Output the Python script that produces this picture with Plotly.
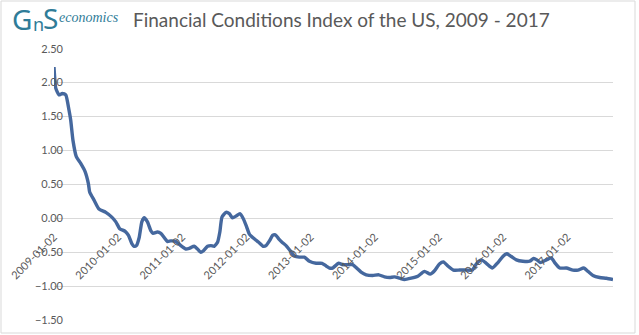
import plotly.graph_objects as go

dates = ["2009-01-02","2009-01-12","2009-01-30","2009-02-18","2009-03-10","2009-03-28","2009-04-07","2009-04-20",
"2009-05-09","2009-06-03","2009-06-28","2009-07-17","2009-07-24","2009-08-18","2009-09-15","2009-10-24","2009-11-27",
"2009-12-20","2010-01-11","2010-02-11","2010-03-02","2010-03-21","2010-04-03","2010-04-16","2010-05-02","2010-05-17",
"2010-05-30","2010-06-18","2010-07-07","2010-07-20","2010-08-14","2010-09-02","2010-09-21","2010-10-10","2010-10-29",
"2010-11-27","2010-12-25","2011-01-23","2011-02-11","2011-03-11","2011-03-30","2011-04-18","2011-05-01","2011-05-26",
"2011-06-14","2011-07-03","2011-07-22","2011-08-04","2011-08-16","2011-09-08","2011-09-27","2011-10-15","2011-11-07",
"2011-11-26","2011-12-15","2012-01-03","2012-01-19","2012-02-16","2012-03-12","2012-04-07","2012-04-23","2012-05-15",
"2012-05-30","2012-06-15","2012-07-04","2012-07-23","2012-08-15","2012-09-06","2012-10-01","2012-10-30","2012-11-27",
"2012-12-26","2013-02-02","2013-03-08","2013-03-31","2013-04-19","2013-05-07","2013-06-10","2013-07-03","2013-08-01",
"2013-08-29","2013-09-21","2013-10-16","2013-11-14","2013-12-21","2014-01-25","2014-02-26","2014-03-27","2014-04-24",
"2014-05-23","2014-06-20","2014-07-28","2014-09-04","2014-10-12","2014-11-13","2014-12-08","2015-01-05","2015-01-28",
"2015-02-22","2015-03-26","2015-04-29","2015-06-07","2015-07-11","2015-08-03","2015-08-31","2015-09-29","2015-11-02",
"2015-12-04","2016-01-01","2016-01-24","2016-02-18","2016-03-18","2016-04-24","2016-06-02","2016-06-24","2016-07-13",
"2016-08-01","2016-09-05","2016-10-03","2016-10-22","2016-11-20","2016-12-28","2017-02-03","2017-03-04","2017-04-05",
"2017-04-30","2017-05-28","2017-07-05","2017-08-13","2017-09-19"]

fci = [2.23,1.92,1.82,1.84,1.82,1.60,1.45,1.15,
0.91,0.81,0.69,0.51,0.39,0.27,0.14,0.09,0.02,
-0.05,-0.15,-0.19,-0.25,-0.37,-0.41,-0.40,-0.28,-0.05,
0.01,-0.05,-0.18,-0.22,-0.20,-0.22,-0.28,-0.34,-0.33,
-0.34,-0.40,-0.45,-0.44,-0.41,-0.45,-0.50,-0.48,-0.41,
-0.40,-0.41,-0.35,-0.20,0.02,0.09,0.07,0.01,0.04,
0.07,0.00,-0.12,-0.23,-0.30,-0.35,-0.41,-0.40,-0.32,
-0.25,-0.24,-0.30,-0.35,-0.40,-0.47,-0.55,-0.57,-0.57,
-0.63,-0.66,-0.66,-0.70,-0.73,-0.73,-0.66,-0.68,-0.68,
-0.68,-0.73,-0.79,-0.83,-0.84,-0.83,-0.86,-0.87,-0.86,
-0.88,-0.90,-0.88,-0.85,-0.78,-0.82,-0.77,-0.67,-0.64,
-0.70,-0.76,-0.76,-0.76,-0.76,-0.67,-0.61,-0.66,-0.73,
-0.65,-0.56,-0.52,-0.56,-0.61,-0.63,-0.63,-0.59,-0.61,
-0.65,-0.61,-0.58,-0.65,-0.73,-0.73,-0.76,-0.76,-0.73,
-0.78,-0.84,-0.87,-0.88,-0.90]

tick_dates = ["2009-01-02","2010-01-02","2011-01-02","2012-01-02","2013-01-02",
              "2014-01-02","2015-01-02","2016-01-02","2017-01-02"]
y_ticks = [-1.5, -1.0, -0.5, 0.0, 0.5, 1.0, 1.5, 2.0, 2.5]

title_text = "Financial Conditions Index of the US, 2009 - 2017"

# plot area in pixels
L, R, T, B = 54, 613, 48, 321
W, H = R - L, B - T
def px(x):
    return (x - L) / W
def py(y):
    return (B - y) / H

y_lo, y_hi = -1.51, 2.51

fig = go.Figure()
fig.add_trace(go.Scatter(x=dates, y=fci, mode="lines",
                         line=dict(color="#45689e", width=3.4, shape="spline", smoothing=0.5),
                         showlegend=False, hoverinfo="skip"))

logo_color = "#2f7c98"
fig.update_layout(
    width=639, height=335,
    margin=dict(l=L, r=639 - R, t=T, b=335 - B, autoexpand=False),
    paper_bgcolor="white", plot_bgcolor="white",
    font=dict(family="Lato, sans-serif", color="#595959", size=11),
    xaxis=dict(range=["2009-01-02", "2017-09-19"], type="date",
               tickvals=tick_dates, ticktext=tick_dates, tickangle=-45,
               showgrid=False, zeroline=False, showline=False,
               ticks="outside", ticklen=7, tickcolor="rgba(0,0,0,0)",
               anchor="free", position=(0 - y_lo) / (y_hi - y_lo),
               automargin=False,
               tickfont=dict(size=11, color="#595959")),
    yaxis=dict(range=[y_lo, y_hi], tickvals=y_ticks, tickformat=".2f",
               showgrid=True, gridcolor="#d9d9d9", gridwidth=1,
               zeroline=False, showline=False, ticks="", automargin=False,
               ticklabelstandoff=-10,
               tickfont=dict(size=11, color="#595959")),
    shapes=[dict(type="rect", xref="paper", yref="paper",
                 x0=px(1), x1=px(635), y0=py(333), y1=py(1),
                 line=dict(color="#d9d9d9", width=1), fillcolor="rgba(0,0,0,0)", layer="below")],
    annotations=[
        dict(text="G", xref="paper", yref="paper",
             x=px(10), y=py(19), xanchor="left", yanchor="middle",
             showarrow=False, font=dict(family="Noto Sans", size=28, color=logo_color)),
        dict(text="n", xref="paper", yref="paper",
             x=px(31), y=py(24), xanchor="left", yanchor="middle",
             showarrow=False, font=dict(family="Noto Sans", size=18, color=logo_color)),
        dict(text="S", xref="paper", yref="paper",
             x=px(41), y=py(18), xanchor="left", yanchor="middle",
             showarrow=False, font=dict(family="Noto Sans", size=28, color=logo_color)),
        dict(text="<i>economics</i>", xref="paper", yref="paper",
             x=px(57), y=py(18), xanchor="left", yanchor="middle",
             showarrow=False, font=dict(family="Liberation Serif", size=14, color=logo_color)),
        dict(text=title_text, xref="paper", yref="paper",
             x=px(131), y=py(20), xanchor="left", yanchor="middle",
             showarrow=False, font=dict(family="Lato, sans-serif", size=19, color="#595959")),
    ],
)

fig.write_html("out.html")
